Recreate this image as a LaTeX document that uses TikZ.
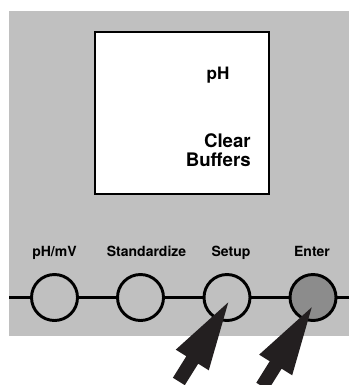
\documentclass[tikz,border=0pt]{standalone}
\usepackage{fontspec}
\setmainfont{TeX Gyre Heros}
\usetikzlibrary{positioning}

\definecolor{panelgray}{HTML}{C0C0C0}
\definecolor{keygray}{HTML}{8C8C8C}
\definecolor{pointerblack}{HTML}{231F20}

\begin{document}
\begin{tikzpicture}[
    x=0.75pt, y=-0.75pt,
    key/.style={draw, circle, line width=2.2pt, minimum size=34.5pt, inner sep=0pt},
    keylabel/.style={anchor=base, inner sep=0pt, font=\bfseries\fontsize{10.5}{12}\selectfont},
    screentext/.style={inner sep=0pt, align=right, font=\bfseries\fontsize{14}{14.25}\selectfont},
    pointer/.pic={
        \fill[pointerblack] (0pt,0pt) -- (-51pt,14.6pt) -- (-51pt,5.25pt) -- (-70pt,5.25pt)
            -- (-70pt,-5.25pt) -- (-51pt,-5.25pt) -- (-51pt,-14.6pt) -- cycle;
    },
]

\useasboundingbox (0,0) rectangle (349,385);

% Panel
\fill[panelgray] (9,11) rectangle (349,336);

% Display
\node[draw, fill=white, line width=1.8pt, minimum width=130.5pt, minimum height=121.5pt, inner sep=0pt] (screen) at (182,113) {};
\node[inner sep=0pt, anchor=north, font=\bfseries\fontsize{12.8}{14}\selectfont] (mode) at (218,66.7) {pH};
\node[screentext, anchor=north east] (msg) at (251,133) {Clear\\Buffers};

% Keys
\node[key] (phmv) at (54.5,297.5) {};
\node[key] (stdz) at (140.5,297.5) {};
\node[key] (setup) at (227,297.5) {};
\node[key, fill=keygray] (enter) at (313,297.5) {};

% Key labels
\node[keylabel] (phmvlabel) at (54.5,256) {pH/mV};
\node[keylabel] (stdzlabel) at (146.5,256) {Standardize};
\node[keylabel] (setuplabel) at (231,256) {Setup};
\node[keylabel] (enterlabel) at (312,256) {Enter};

% Rail
\coordinate (railL) at (9,297.5);
\coordinate (railR) at (349,297.5);
\draw[line width=2pt] (railL) -- (phmv) -- (stdz) -- (setup) -- (enter) -- (railR);

% Pointers
\coordinate (setuptip) at (228.3,302.3);
\coordinate (entertip) at (311.7,307.3);
\pic[rotate=58] at (setuptip) {pointer};
\pic[rotate=58] at (entertip) {pointer};

\end{tikzpicture}
\end{document}
